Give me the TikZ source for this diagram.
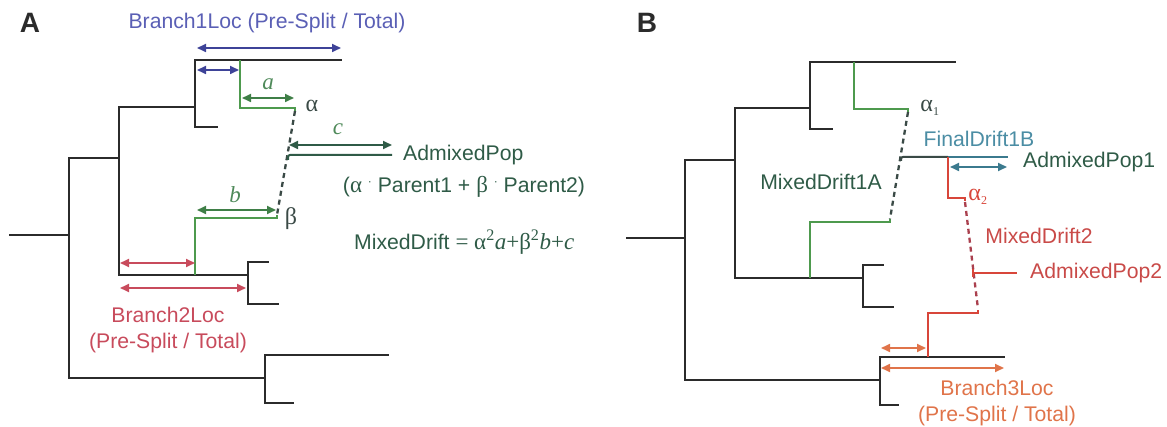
\documentclass[tikz,border=0pt]{standalone}
\usepackage{fontspec}
\setmainfont{Liberation Sans}
\newfontfamily\grk{Liberation Serif}
\usetikzlibrary{arrows.meta}

\definecolor{treeblack}{HTML}{2B2B2B}
\definecolor{bluelbl}{HTML}{5A5FB5}
\definecolor{bluearr}{HTML}{3E4398}
\definecolor{grnline}{HTML}{4E9A4E}
\definecolor{grnarr}{HTML}{3F7F47}
\definecolor{grntxt}{HTML}{4F8A5A}
\definecolor{dkgreen}{HTML}{2F5B47}
\definecolor{redA}{HTML}{C84B5C}
\definecolor{redB}{HTML}{D8463A}
\definecolor{redtxt}{HTML}{C94A48}
\definecolor{orng}{HTML}{E0744A}
\definecolor{teal}{HTML}{4B8DA4}
\definecolor{tealarr}{HTML}{3B7A8E}
\definecolor{dashcol}{HTML}{3A4A46}

\tikzset{
  tree/.style={draw=treeblack, line width=2.2pt, line cap=rect},
  mig/.style={line width=1.5pt},
  dashedlink/.style={draw=dashcol, line width=2.3pt, dash pattern=on 5pt off 4pt},
  dbl/.style={{Triangle[length=9pt,width=8pt]}-{Triangle[length=9pt,width=8pt]}, line width=1.7pt},
  txt/.style={inner sep=0pt, font=\fontsize{21.2}{25}\selectfont},
  panel/.style={inner sep=0pt, font=\fontsize{28}{32}\selectfont\bfseries, text=treeblack},
  grklbl/.style={inner sep=0pt, font=\fontsize{24}{26}\selectfont\grk},
  itlbl/.style={inner sep=0pt, font=\fontsize{23}{26}\selectfont\grk\itshape, text=grntxt},
}

\begin{document}
\begin{tikzpicture}[x=1pt,y=-1pt]
\useasboundingbox (0,0) rectangle (1167,427);

% ================= Panel A =================
\node[panel] (labA) at (30,23) {A};

% tree skeleton
\coordinate (Aroot) at (10,235);
\coordinate (Ak0) at (69,235);
\coordinate (Ak0t) at (69,158);
\coordinate (Ak0b) at (69,378);
\coordinate (Ak1t) at (119,107);
\coordinate (Ak1m) at (119,158);
\coordinate (Ak1b) at (119,275);
\coordinate (Ak2t) at (195,60);
\coordinate (Ak2m) at (195,107);
\coordinate (Ak2b) at (195,127);
\coordinate (Aleaf1) at (341,60);
\coordinate (Aleaf2) at (217,127);
\coordinate (Ak3t) at (248,262);
\coordinate (Ak3m) at (248,275);
\coordinate (Ak3b) at (248,304);
\coordinate (Aleaf3) at (268,262);
\coordinate (Aleaf4) at (278,304);
\coordinate (Ak4t) at (265,355);
\coordinate (Ak4m) at (265,378);
\coordinate (Ak4b) at (265,403);
\coordinate (Aleaf5) at (388,355);
\coordinate (Aleaf6) at (293,403);

\draw[tree] (Aroot) -- (Ak0);
\draw[tree] (Ak0t) -- (Ak0b);
\draw[tree] (Ak0t) -- (Ak1m);
\draw[tree] (Ak1t) -- (Ak1b);
\draw[tree] (Ak1t) -- (Ak2m);
\draw[tree] (Aleaf1) -| (Ak2b) -- (Aleaf2);
\draw[tree] (Ak1b) -- (Ak3m);
\draw[tree] (Aleaf3) -| (Ak3b) -- (Aleaf4);
\draw[tree] (Ak0b) -- (Ak4m);
\draw[tree] (Aleaf5) -| (Ak4b) -- (Aleaf6);

% admixture edges
\coordinate (Agsrc1) at (240,60);
\coordinate (Aalpha) at (295,108);
\coordinate (Agsrc2) at (195,275);
\coordinate (Abeta) at (277,218);
\coordinate (Amix) at (288,160);
\coordinate (Aadm) at (392,155);
\draw[grnline, mig] (Agsrc1) |- (Aalpha) -- ++(0,3);
\draw[grnline, mig] (Agsrc2) |- (Abeta) -- ++(0,-3);
\draw[dashedlink] (295,111) -- (277,215);
\draw[dkgreen, line width=2pt, rounded corners=2pt] (Amix) |- (Aadm);

% arrows
\coordinate (Ab1L) at (197,48);  \coordinate (Ab1R) at (341,48);
\coordinate (Ab2L) at (197,70);  \coordinate (Ab2R) at (239,70);
\draw[dbl, bluearr] (Ab1L) -- (Ab1R);
\draw[dbl, bluearr] (Ab2L) -- (Ab2R);
\coordinate (AaL) at (242,98);  \coordinate (AaR) at (294,98);
\coordinate (AbL) at (197,210); \coordinate (AbR) at (276,210);
\coordinate (AcL) at (289,145); \coordinate (AcR) at (392,145);
\draw[dbl, grnarr] (AaL) -- (AaR);
\draw[dbl, grnarr] (AbL) -- (AbR);
\draw[dbl, dkgreen] (AcL) -- (AcR);
\coordinate (Ar1L) at (120,263); \coordinate (Ar1R) at (195,263);
\coordinate (Ar2L) at (120,288); \coordinate (Ar2R) at (246,288);
\draw[dbl, redA] (Ar1L) -- (Ar1R);
\draw[dbl, redA] (Ar2L) -- (Ar2R);

% labels
\node[txt, text=bluelbl] (b1loc) at (267,23) {Branch1Loc (Pre-Split / Total)};
\node[itlbl] (la) at (268,84) {a};
\node[itlbl] (lb) at (235,195) {b};
\node[itlbl] (lc) at (338,129) {c};
\node[grklbl, text=dashcol] (lalpha) at (312,106) {α};
\node[grklbl, text=dashcol] (lbeta) at (291,219) {β};
\node[txt, text=dkgreen, anchor=west] (admpop) at (403,155) {AdmixedPop};
\node[txt, text=dkgreen] (parents) at (464,187)
  {({\grk\fontsize{23}{25}\selectfont α} \raisebox{0.6ex}{\fontsize{12}{12}\selectfont·} Parent1 + {\grk\fontsize{23}{25}\selectfont β} \raisebox{0.6ex}{\fontsize{12}{12}\selectfont·} Parent2)};
\node[txt, text=dkgreen, anchor=west] (mixdrift) at (354,242)
  {MixedDrift {\grk\fontsize{23}{25}\selectfont = α\textsuperscript{2}\textit{a}+β\textsuperscript{2}\textit{b}+\textit{c}}};
\node[txt, text=redA, align=center] (b2loc) at (168,330)
  {Branch2Loc\\[1pt](Pre-Split / Total)};

% ================= Panel B =================
\node[panel] (labB) at (647,23) {B};

\coordinate (Broot) at (627,238);
\coordinate (Bk0) at (685,238);
\coordinate (Bk0t) at (685,160);
\coordinate (Bk0b) at (685,380);
\coordinate (Bk1t) at (735,108);
\coordinate (Bk1m) at (735,160);
\coordinate (Bk1b) at (735,278);
\coordinate (Bk2t) at (810,62);
\coordinate (Bk2m) at (810,108);
\coordinate (Bk2b) at (810,129);
\coordinate (Bleaf1) at (955,62);
\coordinate (Bleaf2) at (832,129);
\coordinate (Bk3t) at (863,265);
\coordinate (Bk3m) at (863,278);
\coordinate (Bk3b) at (863,307);
\coordinate (Bleaf3) at (883,265);
\coordinate (Bleaf4) at (893,307);
\coordinate (Bk4t) at (880,357);
\coordinate (Bk4m) at (880,380);
\coordinate (Bk4b) at (880,405);
\coordinate (Bleaf5) at (1004,357);
\coordinate (Bleaf6) at (898,405);

\draw[tree] (Broot) -- (Bk0);
\draw[tree] (Bk0t) -- (Bk0b);
\draw[tree] (Bk0t) -- (Bk1m);
\draw[tree] (Bk1t) -- (Bk1b);
\draw[tree] (Bk1t) -- (Bk2m);
\draw[tree] (Bleaf1) -| (Bk2b) -- (Bleaf2);
\draw[tree] (Bk1b) -- (Bk3m);
\draw[tree] (Bleaf3) -| (Bk3b) -- (Bleaf4);
\draw[tree] (Bk0b) -- (Bk4m);
\draw[tree] (Bleaf5) -| (Bk4b) -- (Bleaf6);

% first admixture
\coordinate (Bgsrc1) at (854,62);
\coordinate (Balpha1) at (908,109);
\coordinate (Bgsrc2) at (810,278);
\coordinate (Bbeta1) at (890,222);
\coordinate (Bmix1) at (901,161);
\coordinate (Bsplit) at (948,157);
\coordinate (Badm1) at (1008,157);
\draw[grnline, mig] (Bgsrc1) |- (Balpha1) -- ++(0,3);
\draw[grnline, mig] (Bgsrc2) |- (Bbeta1) -- ++(0,-3);
\draw[dashedlink] (908,112) -- (890,219);
\draw[dashcol, line width=2pt, rounded corners=2pt] (Bmix1) |- (Bsplit);
\draw[tealarr, line width=2pt] (Bsplit) -- (Badm1);

% second admixture
\coordinate (Balpha2) at (965,198);
\coordinate (Brsrc2) at (928,357);
\coordinate (Bbeta2) at (978,313);
\coordinate (Bmix2) at (973,273);
\coordinate (Badm2) at (1017,273);
\draw[redB, mig] (Bsplit) |- (Balpha2) -- ++(0,3);
\draw[redB, mig] (Brsrc2) |- (Bbeta2) -- ++(0,-3);
\draw[dashedlink, draw=redA!85!black] (965,202) -- (978,309);
\draw[redB, mig] (Bmix2) -- (Badm2);
\draw[redB, line width=1.2pt] (973,269) -- (973,277);

% arrows
\coordinate (BtL) at (950,167); \coordinate (BtR) at (1007,167);
\draw[dbl, tealarr] (BtL) -- (BtR);
\coordinate (Bo1L) at (881,348); \coordinate (Bo1R) at (926,348);
\coordinate (Bo2L) at (881,368); \coordinate (Bo2R) at (1004,368);
\draw[dbl, orng] (Bo1L) -- (Bo1R);
\draw[dbl, orng] (Bo2L) -- (Bo2R);

% labels
\node[txt, text=dkgreen] (md1a) at (821,182) {MixedDrift1A};
\node[grklbl, text=dashcol] (lalpha1) at (930,108) {α\textsubscript{\fontsize{12}{12}\selectfont 1}};
\node[txt, text=teal] (fd1b) at (979,139) {FinalDrift1B};
\node[txt, text=dkgreen, anchor=west] (admpop1) at (1023,162) {AdmixedPop1};
\node[grklbl, text=redB] (lalpha2) at (978,197) {α\textsubscript{\fontsize{12}{12}\selectfont 2}};
\node[txt, text=redtxt] (md2) at (1039,236) {MixedDrift2};
\node[txt, text=redtxt, anchor=west] (admpop2) at (1030,273) {AdmixedPop2};
\node[txt, text=orng, align=center] (b3loc) at (997,403)
  {Branch3Loc\\[1pt](Pre-Split / Total)};

\end{tikzpicture}
\end{document}
